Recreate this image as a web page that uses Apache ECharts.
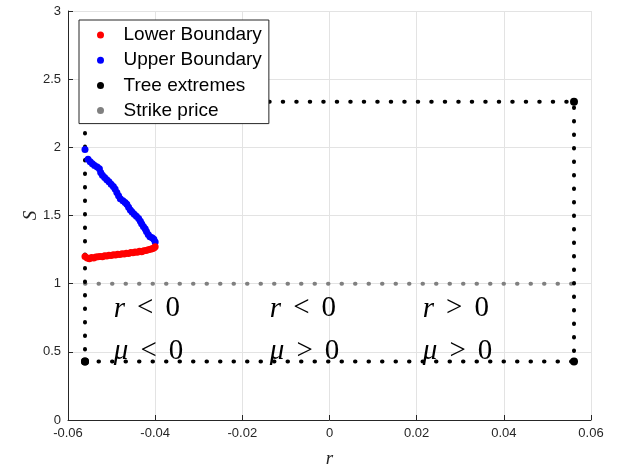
<!DOCTYPE html>
<html><head><meta charset="utf-8">
<script src="https://cdn.jsdelivr.net/npm/echarts@6/dist/echarts.min.js"></script>
<style>html,body{margin:0;padding:0;background:#fff}#c{width:619px;height:473px}</style>
</head><body><div id="c"></div>
<script>
// ---- data ----
const lowerR = [-0.0561,-0.0556,-0.0551,-0.0546,-0.0541,-0.0536,-0.0531,-0.0526,-0.0521,-0.0516,-0.0511,-0.0506,-0.0501,-0.0496,-0.0491,-0.0486,-0.0481,-0.0476,-0.0471,-0.0466,-0.0461,-0.0456,-0.0451,-0.0446,-0.0441,-0.0436,-0.0431,-0.0426,-0.0421,-0.0416,-0.0411,-0.0407,-0.0403,-0.0400];
const lowerS = [1.200,1.188,1.183,1.192,1.188,1.195,1.197,1.200,1.198,1.205,1.203,1.208,1.206,1.212,1.210,1.216,1.214,1.220,1.218,1.224,1.222,1.228,1.226,1.232,1.230,1.237,1.235,1.242,1.243,1.248,1.252,1.256,1.262,1.270];
const upperR = [-0.0561,-0.0554,-0.0549,-0.0544,-0.0539,-0.0533,-0.0528,-0.0525,-0.0521,-0.0516,-0.0511,-0.0506,-0.0501,-0.0496,-0.0492,-0.0488,-0.0484,-0.0480,-0.0474,-0.0469,-0.0465,-0.0461,-0.0457,-0.0453,-0.0448,-0.0443,-0.0438,-0.0434,-0.0431,-0.0427,-0.0423,-0.0420,-0.0416,-0.0412,-0.0407,-0.0403,-0.0400];
const upperS = [1.985,1.912,1.895,1.880,1.866,1.855,1.842,1.815,1.795,1.778,1.762,1.748,1.730,1.712,1.694,1.668,1.645,1.622,1.608,1.595,1.582,1.560,1.540,1.525,1.510,1.495,1.478,1.458,1.440,1.420,1.403,1.382,1.360,1.345,1.336,1.325,1.306];
const treeR = [-0.0561, 0.0561, 0.0561, -0.0561, -0.0561];
const treeS = [0.43, 0.43, 2.335, 2.335, 0.43];
const strikeR = [-0.0561, 0.0561];
const strikeS = [1, 1];
const xTickLabels = ['-0.06','-0.04','-0.02','0','0.02','0.04','0.06'];
const yTickLabels = ['0','0.5','1','1.5','2','2.5','3'];
const annotR = [-0.0496, -0.0138, 0.0213];
const annotRowS = [0.815, 0.50];
const annotVars = ['r', 'μ'];
const annotOps = [['<','<','>'], ['<','>','>']];
const seriesNames = ['Lower Boundary','Upper Boundary','Tree extremes','Strike price'];

// ---- build ----
const zip = (a, b) => a.map((v, i) => [v, b[i]]);
const dotLine = (color) => ({color: color, width: 4, type: [0.5, 13], cap: 'round'});
const annotData = [];
annotRowS.forEach((s, row) => {
  annotR.forEach((r, col) => {
    annotData.push({value: [r, s], v: annotVars[row], op: annotOps[row][col]});
  });
});
const axisCol = '#262626';
const chart = echarts.init(document.getElementById('c'), null, {renderer: 'canvas'});
chart.setOption({
  animation: false,
  backgroundColor: '#fff',
  grid: {left: 68, right: 28, top: 11, bottom: 48, containLabel: false},
  xAxis: {
    type: 'value', min: -0.06, max: 0.06, interval: 0.02,
    name: 'r', nameLocation: 'middle', nameGap: 29, nameMoveOverlap: false,
    nameTextStyle: {fontFamily: 'Liberation Serif', fontStyle: 'italic', fontSize: 19, color: axisCol},
    axisLine: {show: true, onZero: false, lineStyle: {color: axisCol, width: 1}},
    axisTick: {show: true, inside: true, length: 5, lineStyle: {color: axisCol}},
    axisLabel: {fontFamily: 'Liberation Sans', fontSize: 13, color: axisCol, margin: 7,
      formatter: v => xTickLabels[Math.round((v + 0.06) / 0.02)]},
    splitLine: {show: true, lineStyle: {color: '#e3e3e3', width: 1}}
  },
  yAxis: {
    type: 'value', min: 0, max: 3, interval: 0.5,
    name: 'S', nameLocation: 'middle', nameGap: 28, nameMoveOverlap: false,
    nameTextStyle: {fontFamily: 'Liberation Serif', fontStyle: 'italic', fontSize: 19, color: axisCol},
    axisLine: {show: true, onZero: false, lineStyle: {color: axisCol, width: 1}},
    axisTick: {show: true, inside: true, length: 5, lineStyle: {color: axisCol}},
    axisLabel: {fontFamily: 'Liberation Sans', fontSize: 13, color: axisCol, margin: 7,
      formatter: v => yTickLabels[Math.round(v / 0.5)]},
    splitLine: {show: true, lineStyle: {color: '#e3e3e3', width: 1}}
  },
  legend: {
    data: seriesNames, orient: 'vertical', left: 79, top: 20,
    icon: 'circle', itemWidth: 36, itemHeight: 7, itemGap: 5.2,
    padding: [5, 7, 3, 18], selectedMode: false,
    backgroundColor: '#fff', borderColor: axisCol, borderWidth: 1,
    textStyle: {fontFamily: 'Liberation Sans', fontSize: 19, lineHeight: 20, color: '#000'}
  },
  series: [
    {name: 'Strike price', type: 'line', data: zip(strikeR, strikeS), showSymbol: false, symbol: 'circle',
     itemStyle: {color: '#808080'}, lineStyle: dotLine('#808080'), z: 2},
    {name: 'Tree extremes', type: 'line', data: zip(treeR, treeS), symbol: 'circle', symbolSize: 8,
     itemStyle: {color: '#000'}, lineStyle: dotLine('#000'), z: 3},
    {name: 'Upper Boundary', type: 'scatter', data: zip(upperR, upperS), symbol: 'circle', symbolSize: 7,
     itemStyle: {color: '#0000ff', opacity: 1}, z: 4},
    {name: 'Lower Boundary', type: 'scatter', data: zip(lowerR, lowerS), symbol: 'circle', symbolSize: 7,
     itemStyle: {color: '#ff0000', opacity: 1}, z: 5},
    {name: 'annot', type: 'scatter', data: annotData, symbolSize: 1, silent: true,
     itemStyle: {color: 'rgba(0,0,0,0)'}, z: 6,
     label: {show: true, position: 'right', distance: 0, color: '#000', opacity: 1,
       fontFamily: 'Liberation Serif', fontSize: 29,
       formatter: p => '{i|' + p.data.v + '}{o|' + p.data.op + '}{n|0}',
       rich: {
         i: {fontFamily: 'Liberation Serif', fontStyle: 'italic', fontSize: 29, color: '#000'},
         o: {fontFamily: 'Liberation Serif', fontSize: 29, padding: [0, 12], color: '#000'},
         n: {fontFamily: 'Liberation Serif', fontSize: 29, color: '#000'}
       }},
     emphasis: {disabled: true}}
  ]
});
</script></body></html>
